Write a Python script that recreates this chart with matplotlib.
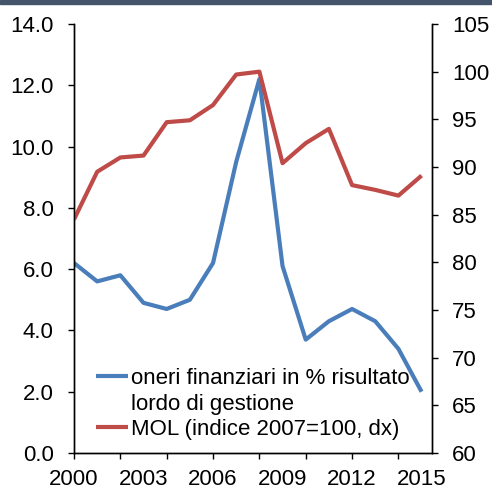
import matplotlib.pyplot as plt
from matplotlib.lines import Line2D
from matplotlib.patches import Rectangle

plt.rcParams['font.family'] = ['Liberation Sans', 'DejaVu Sans']

years = list(range(2000, 2016))
oneri = [6.2, 5.6, 5.8, 4.9, 4.7, 5.0, 6.2, 9.5, 12.2, 6.1, 3.7, 4.3, 4.7, 4.3, 3.4, 2.0]
mol = [84.5, 89.5, 91.0, 91.2, 94.7, 94.9, 96.5, 99.7, 100.0, 90.4, 92.5, 94.0, 88.1, 87.6, 87.0, 89.1]

label_oneri = "oneri finanziari in % risultato"
label_oneri2 = "lordo di gestione"
label_mol = "MOL (indice 2007=100, dx)"

blue = "#4A7EBB"
red = "#BE4B48"
fs = 16

fig = plt.figure(figsize=(4.92, 4.92), dpi=100)
ax = fig.add_axes([74/492, 39/492, 358/492, 429/492])
ax2 = ax.twinx()

l1, = ax.plot(years, oneri, color=blue, lw=3, solid_capstyle='butt')
l2, = ax2.plot(years, mol, color=red, lw=3, solid_capstyle='butt')

ax.set_xlim(2000, 2015.45)
ax.set_ylim(0, 14)
ax2.set_ylim(60, 105)
ax.set_yticks([0, 2, 4, 6, 8, 10, 12, 14])
ax.set_yticklabels(["%.1f" % v for v in [0, 2, 4, 6, 8, 10, 12, 14]])
ax2.set_yticks(range(60, 106, 5))

ax.set_xticks(range(2000, 2015, 2))
ax.set_xticklabels([])
for y in range(2000, 2016, 3):
    ax.text(y, -0.037, str(y), transform=ax.get_xaxis_transform(),
            ha='center', va='top', fontsize=fs)

for a in (ax, ax2):
    a.spines['top'].set_visible(False)
    for s in a.spines.values():
        s.set_linewidth(1)
    a.tick_params(direction='out', length=4.5, width=1, labelsize=fs, pad=10)
ax.tick_params(axis='x', length=4.5)

blank = Line2D([], [], color='none')
leg = ax.legend([l1, blank, l2], [label_oneri, label_oneri2, label_mol],
                loc='lower left', bbox_to_anchor=(0.062, 0.03), frameon=False,
                fontsize=fs, handlelength=1.45, handletextpad=0.12,
                labelspacing=0.2, borderaxespad=0, borderpad=0)

fig.patches.append(Rectangle((0, 1 - 4/492), 1, 4/492, transform=fig.transFigure,
                             color="#44546A", zorder=10))

fig.savefig("out.png", dpi=100)
